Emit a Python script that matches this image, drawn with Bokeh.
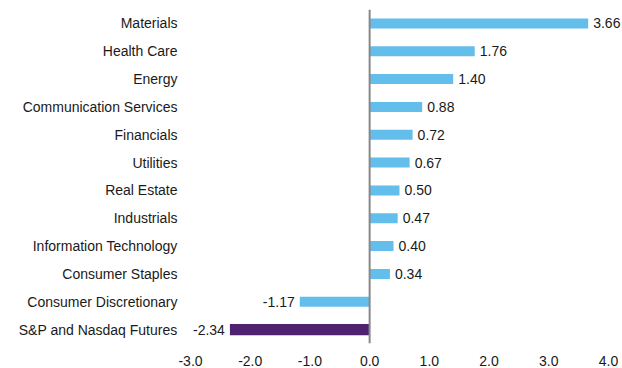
from bokeh.plotting import figure
from bokeh.models import ColumnDataSource, Span, FixedTicker, CustomJSTickFormatter
from bokeh.core.properties import value
from bokeh.embed import file_html
from bokeh.resources import INLINE

categories = ["Materials", "Health Care", "Energy", "Communication Services", "Financials",
              "Utilities", "Real Estate", "Industrials", "Information Technology",
              "Consumer Staples", "Consumer Discretionary", "S&P and Nasdaq Futures"]
values = [3.66, 1.76, 1.40, 0.88, 0.72, 0.67, 0.50, 0.47, 0.40, 0.34, -1.17, -2.34]
x_ticks = [-3.0, -2.0, -1.0, 0.0, 1.0, 2.0, 3.0, 4.0]

BLUE = "#64BEEC"
PURPLE = "#4E2270"
FONT = "Liberation Sans"
FS = "14px"

colors = [PURPLE if c == "S&P and Nasdaq Futures" else BLUE for c in categories]
heights = [0.40 if c == "S&P and Nasdaq Futures" else 0.36 for c in categories]
labels = ["%.2f" % v for v in values]
aligns = ["left" if v >= 0 else "right" for v in values]
offsets = [5 if v >= 0 else -5 for v in values]

src = ColumnDataSource(dict(cat=categories, val=values, color=colors, h=heights,
                            label=labels, align=aligns, off=offsets))

# frame spans x=190..622 at ~59.7 px per unit so that 4.0 sits at ~608 and labels are not clipped
p = figure(width=622, height=368, y_range=list(reversed(categories)), x_range=(-3.0, 4.235),
           output_backend="svg", toolbar_location=None,
           min_border_left=190, min_border_right=0, min_border_top=9, min_border_bottom=24)
p.outline_line_color = None
p.background_fill_color = "white"
p.border_fill_color = "white"
p.grid.grid_line_color = None

p.hbar(y="cat", right="val", left=0, height="h", color="color", source=src, line_color=None)

zero = Span(location=0, dimension="height", line_color="#888888", line_width=2)
p.add_layout(zero)

p.text(x="val", y="cat", text="label", text_align="align", x_offset="off",
       text_baseline="middle", text_font=value(FONT), text_font_size=FS,
       text_color="#1a1a1a", source=src)

p.xaxis.ticker = FixedTicker(ticks=x_ticks)
p.xaxis.formatter = CustomJSTickFormatter(code="return tick.toFixed(1);")
p.xaxis.axis_line_color = None
p.xaxis.major_tick_line_color = None
p.xaxis.minor_tick_line_color = None
p.xaxis.major_label_text_font = FONT
p.xaxis.major_label_text_font_size = FS
p.xaxis.major_label_text_color = "#1a1a1a"
p.xaxis.major_label_standoff = 6

p.yaxis.axis_line_color = None
p.yaxis.major_tick_line_color = None
p.yaxis.minor_tick_line_color = None
p.yaxis.major_label_text_font = FONT
p.yaxis.major_label_text_font_size = FS
p.yaxis.major_label_text_color = "#1a1a1a"
p.yaxis.major_label_standoff = 7

open("out.html", "w").write(file_html(p, INLINE))
